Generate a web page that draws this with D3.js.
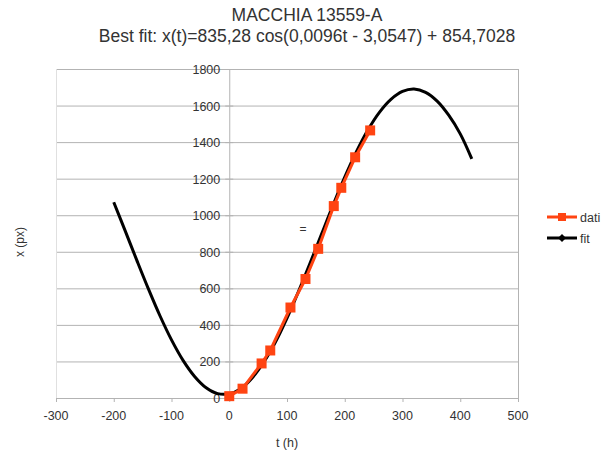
<!DOCTYPE html>
<html><head><meta charset="utf-8">
<script src="https://cdn.jsdelivr.net/npm/d3@7"></script>
<style>body{margin:0;background:#fff;}svg{display:block;font-family:"Liberation Sans",Arial,sans-serif;}</style>
</head><body><svg id="c" width="614" height="454"></svg>
<script>
const title = "MACCHIA 13559-A";
const subtitle = "Best fit: x(t)=835,28 cos(0,0096t - 3,0547) + 854,7028";
const xTicks = [-300,-200,-100,0,100,200,300,400,500];
const yTicks = [0,200,400,600,800,1000,1200,1400,1600,1800];
const datiT = [0,23,56,71,106,132,154,181,194,218,244];
const datiX = [10,51,189,260,495,651,816,1050,1150,1317,1464];
const fitT = [-200,-180,-160,-140,-120,-100,-80,-60,-40,-20,0,20,40,60,80,100,120,140,160,180,200,220,240,260,280,300,320,340,360,380,400,420];
const fitX = [1071,913,753,597,450,318,206,118,56,24,23,51,111,197,306,437,583,738,898,1057,1208,1346,1466,1563,1634,1677,1690,1672,1624,1547,1445,1308];

const svg = d3.select("#c");
const L=56,R=518,T=69,B=398;
const x = d3.scaleLinear().domain([-300,500]).range([L,R]);
const y = d3.scaleLinear().domain([0,1800]).range([B,T]);
const grid="#b3b3b3", txt="#333";

svg.append("text").attr("x",307).attr("y",21).attr("text-anchor","middle").attr("font-size",17.5).attr("fill",txt).text(title);
svg.append("text").attr("x",307).attr("y",42).attr("text-anchor","middle").attr("font-size",17.5).attr("fill",txt).text(subtitle);

// gridlines
svg.append("g").selectAll("line").data(yTicks).join("line")
  .attr("x1",L).attr("x2",R).attr("y1",d=>y(d)+0.5).attr("y2",d=>y(d)+0.5).attr("stroke",grid).attr("stroke-width",1);
svg.append("line").attr("x1",R+0.5).attr("x2",R+0.5).attr("y1",T).attr("y2",B).attr("stroke",grid);
svg.append("line").attr("x1",L+0.5).attr("x2",L+0.5).attr("y1",T).attr("y2",B).attr("stroke","#e0e0e0");
// y axis at t=0
svg.append("line").attr("x1",x(0)+0.5).attr("x2",x(0)+0.5).attr("y1",T).attr("y2",B).attr("stroke",grid);
// x axis ticks
svg.append("g").selectAll("line").data(xTicks).join("line")
  .attr("x1",d=>x(d)+0.5).attr("x2",d=>x(d)+0.5).attr("y1",B).attr("y2",B+4).attr("stroke",grid);
svg.append("g").selectAll("line").data(yTicks).join("line")
  .attr("x1",x(0)-4).attr("x2",x(0)+4).attr("y1",d=>y(d)+0.5).attr("y2",d=>y(d)+0.5).attr("stroke",grid);
// x tick labels
svg.append("g").selectAll("text").data(xTicks).join("text")
  .attr("x",d=>x(d)).attr("y",B+22).attr("text-anchor","middle").attr("font-size",12.5).attr("fill",txt).text(d=>d);
// y tick labels
svg.append("g").selectAll("text").data(yTicks).join("text")
  .attr("x",x(0)-9).attr("y",d=>y(d)+5).attr("text-anchor","end").attr("font-size",12.5).attr("fill",txt).text(d=>d);

svg.append("text").attr("x",287).attr("y",447).attr("text-anchor","middle").attr("font-size",12.5).attr("fill",txt).text("t (h)");
svg.append("text").attr("transform","translate(24,242) rotate(-90)").attr("text-anchor","middle").attr("font-size",12).attr("fill",txt).text("x (px)");
svg.append("text").attr("x",303).attr("y",233).attr("text-anchor","middle").attr("font-size",12).attr("fill",txt).text("=");

const line = d3.line().x(d=>x(d[0])).y(d=>y(d[1])).curve(d3.curveCatmullRom);
const fitData = fitT.map((t,i)=>[t,fitX[i]]);
const datiData = datiT.map((t,i)=>[t,datiX[i]]);
const orange="#ff4412";
svg.append("path").datum(fitData).attr("d",line).attr("fill","none").attr("stroke","#000").attr("stroke-width",3);
svg.append("path").datum(datiData).attr("d",d3.line().x(d=>x(d[0])).y(d=>y(d[1]))).attr("fill","none").attr("stroke",orange).attr("stroke-width",3);
svg.append("g").selectAll("rect").data(datiData).join("rect")
  .attr("x",d=>x(d[0])-5).attr("y",d=>y(d[1])-5).attr("width",10).attr("height",10).attr("fill",orange);

// legend
svg.append("line").attr("x1",547).attr("x2",577).attr("y1",217).attr("y2",217).attr("stroke",orange).attr("stroke-width",3);
svg.append("rect").attr("x",558).attr("y",213).attr("width",8).attr("height",8).attr("fill",orange);
svg.append("text").attr("x",580).attr("y",222).attr("font-size",12.5).attr("fill",txt).text("dati");
svg.append("line").attr("x1",547).attr("x2",577).attr("y1",238).attr("y2",238).attr("stroke","#000").attr("stroke-width",3);
svg.append("path").attr("d","M558,238 L562,234 L566,238 L562,242 Z").attr("fill","#000");
svg.append("text").attr("x",580).attr("y",243).attr("font-size",12.5).attr("fill",txt).text("fit");
</script></body></html>
